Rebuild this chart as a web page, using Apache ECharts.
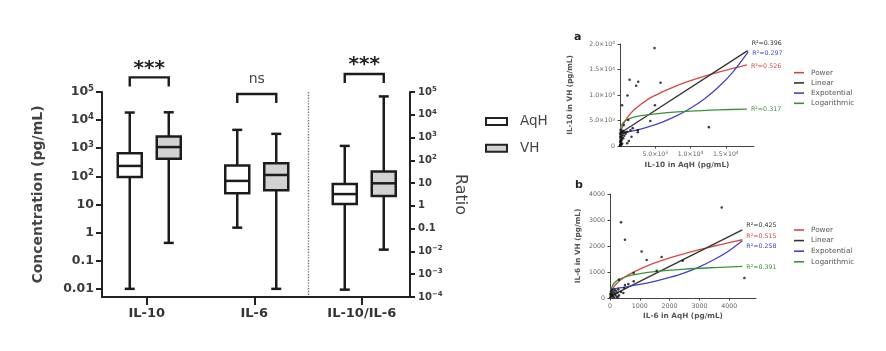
<!DOCTYPE html>
<html>
<head>
<meta charset="utf-8">
<script src="https://cdn.jsdelivr.net/npm/echarts@6/dist/echarts.min.js"></script>
<style>html,body{margin:0;background:#fff}#main{width:886px;height:351px}</style>
</head>
<body>
<div id="main"></div>
<script>
const FONT = 'DejaVu Sans';

// ---- left panel: box plots, [min, Q1, median, Q3, max]
const categories = ['IL-10', 'IL-6', 'IL-10/IL-6'];
const aqhConc = [[0.01, 95, 235, 660, 18600], [1.5, 25, 69, 245, 4500]];
const vhConc = [[0.43, 425, 1100, 2600, 19000], [0.01, 32, 112, 290, 3250]];
const aqhRatio = [0.00021, 1.2, 3.3, 9.1, 430];
const vhRatio = [0.012, 2.7, 9.8, 32, 64000];
const concTickLabels = ['0.01', '0.1', '1', '10', '10{s|2}', '10{s|3}', '10{s|4}', '10{s|5}']; // 1e-2 .. 1e5
const ratioTickLabels = ['10{s|−4}', '10{s|−3}', '10{s|−2}', '0.1', '1', '10', '10{s|2}', '10{s|3}', '10{s|4}', '10{s|5}']; // 1e-4 .. 1e5
const sigConc = [[0, 331000], [1, 85000]];
const sigConcText = ['***', 'ns'];
const sigRatio = [[2, 617000]];
const sigRatioText = ['***'];

// ---- panel a: IL-10, AqH (x) vs VH (y)
const il10Points = [
    [20, 100], [40, 900], [50, 300], [60, 1800], [80, 600], [100, 1000], [120, 1500], [130, 200],
    [150, 800], [150, 2800], [180, 2000], [200, 2600], [220, 350], [250, 1200], [280, 1700], [300, 500],
    [350, 2200], [400, 3000], [450, 1500], [500, 2600], [90, 3200], [30, 2400], [10, 50], [600, 2000],
    [700, 2700], [800, 2400], [540, 4100], [1020, 2800], [1250, 980], [1020, 530], [1490, 3100],
    [1630, 1800], [1810, 3500], [2520, 3100], [2520, 2700], [4300, 4900], [4950, 8000], [300, 8000],
    [1060, 9900], [1160, 5100], [1350, 13000], [2290, 11800], [2580, 12600], [5740, 12400],
    [4900, 19200], [12600, 3700]
];
const il10Power = [[10, 1000], [100, 2400], [500, 4300], [1000, 5500], [2000, 7100], [4000, 9200], [6000, 10600],
    [8000, 11800], [10000, 12800], [12000, 13700], [14000, 14500], [16000, 15200], [18000, 15900]];
const il10Linear = [[0, 2500], [18100, 18700]];
const il10Expo = [[0, 2400], [2000, 3000], [4000, 3750], [6000, 4700], [8000, 5900], [10000, 7400],
    [12000, 9250], [14000, 11600], [16000, 14500], [18200, 18500]];
const il10Log = [[10, 1800], [50, 3000], [150, 3800], [300, 4300], [700, 4900], [1500, 5450], [3000, 5950],
    [6000, 6450], [10000, 6820], [14000, 7070], [18000, 7250]];
const il10R2 = ['R²=0.526', 'R²=0.396', 'R²=0.297', 'R²=0.317'];
const il10XTicks = [5000, 10000, 15000];
const il10XLabels = ['5.0×10{s|3}', '1.0×10{s|4}', '1.5×10{s|4}'];
const il10YTicks = [0, 5000, 10000, 15000, 20000];
const il10YLabels = ['0', '5.0×10{s|3}', '1.0×10{s|4}', '1.5×10{s|4}', '2.0×10{s|4}'];

// ---- panel b: IL-6, AqH (x) vs VH (y)
const il6Points = [
    [3750, 3480], [370, 2910], [503, 2240], [1063, 1790], [1230, 1460], [1733, 1577], [2440, 1434],
    [4510, 770], [1567, 1050], [795, 960], [795, 640], [302, 700], [614, 540], [500, 500], [447, 190],
    [370, 230], [480, 385], [20, 30], [40, 80], [60, 150], [80, 200], [100, 60], [120, 250], [150, 320],
    [180, 120], [200, 280], [250, 200], [280, 330], [30, 250], [70, 320], [130, 20], [220, 60], [10, 150],
    [160, 180], [300, 100], [260, 30], [90, 100]
];
const il6Power = [[0, 0], [20, 170], [100, 380], [300, 640], [600, 880], [1000, 1110], [1500, 1350],
    [2000, 1540], [2500, 1710], [3000, 1860], [3500, 2000], [4000, 2130], [4440, 2240]];
const il6Linear = [[0, 60], [4440, 2620]];
const il6Expo = [[0, 340], [500, 420], [1000, 520], [1500, 640], [2000, 790], [2500, 970], [3000, 1200],
    [3500, 1480], [4000, 1820], [4440, 2200]];
const il6Log = [[8, 30], [15, 150], [30, 290], [60, 415], [150, 585], [300, 715], [700, 870], [1500, 1015],
    [2500, 1110], [3500, 1170], [4440, 1215]];
const il6R2 = ['R²=0.515', 'R²=0.425', 'R²=0.258', 'R²=0.391'];
const il6Ticks = [0, 1000, 2000, 3000, 4000];
const il6YTicks = [0, 1000, 2000, 3000, 4000];

const fitNames = ['Power', 'Linear', 'Expotential', 'Logarithmic'];
const fitColors = ['#d64a46', '#333333', '#4343c4', '#3a933a'];

const chart = echarts.init(document.getElementById('main'));
const lg = Math.log10;

const AQH_SHIFT = -17;
const VH_SHIFT = 22;
const INK = '#1c1c1c';

function toBox(stats, i) {
    return [i].concat(stats.map(lg));
}

function boxItem(shift, fill) {
    return function(params, api) {
        const cat = api.value(0);
        const y = i => api.coord([cat, api.value(i)])[1];
        const x = api.coord([cat, api.value(3)])[0] + shift;
        const line = (x1, y1, x2, y2) => ({
            type: 'line',
            shape: { x1, y1, x2, y2 },
            style: { stroke: INK, lineWidth: 2.5 }
        });
        return {
            type: 'group',
            children: [
                line(x, y(5), x, y(4)),
                line(x, y(2), x, y(1)),
                line(x - 5, y(5), x + 5, y(5)),
                line(x - 5, y(1), x + 5, y(1)),
                {
                    type: 'rect',
                    shape: { x: x - 12, y: y(4), width: 24, height: y(2) - y(4) },
                    style: { fill: fill, stroke: INK, lineWidth: 2.5 }
                },
                line(x - 12, y(3), x + 12, y(3))
            ]
        };
    };
}

function sigItem(texts) {
    return function(params, api) {
        const p = api.coord([api.value(0), api.value(1)]);
        const x1 = p[0] + AQH_SHIFT, x2 = p[0] + VH_SHIFT, yt = p[1];
        const txt = texts[params.dataIndex];
        const stars = txt === '***';
        return {
            type: 'group',
            children: [{
                type: 'polyline',
                shape: { points: [[x1, yt + 9], [x1, yt], [x2, yt], [x2, yt + 9]] },
                style: { stroke: INK, lineWidth: 2.4, fill: null }
            }, {
                type: 'text',
                style: {
                    text: txt,
                    x: (x1 + x2) / 2,
                    y: stars ? yt - 9 : yt - 15,
                    align: 'center',
                    verticalAlign: 'middle',
                    fill: stars ? '#222' : '#444',
                    fontSize: stars ? 20 : 14,
                    fontWeight: stars ? 'bold' : 'normal',
                    fontFamily: FONT
                }
            }]
        };
    };
}

function panelLabel(labels, ticks, size) {
    return {
        customValues: ticks,
        formatter: v => labels[ticks.indexOf(v)] || '',
        fontSize: size,
        color: '#666',
        fontFamily: FONT,
        rich: { s: { fontSize: size * 0.72, verticalAlign: 'top', lineHeight: 5, color: '#666', fontFamily: FONT } }
    };
}

function panelAxis(grid, opts) {
    return Object.assign({
        gridIndex: grid,
        type: 'value',
        nameLocation: 'middle',
        nameTextStyle: { fontSize: 7.3, fontWeight: 'bold', color: '#555', fontFamily: FONT },
        axisLine: { show: true, onZero: false, lineStyle: { color: '#444', width: 1 } },
        splitLine: { show: false }
    }, opts);
}

function fitSeries(data, idx, r2, dy, xi, yi) {
    const color = fitColors[idx];
    return {
        type: 'line',
        name: fitNames[idx],
        xAxisIndex: xi,
        yAxisIndex: yi,
        data: data,
        smooth: 0.3,
        showSymbol: false,
        symbol: 'none',
        silent: true,
        lineStyle: { color: color, width: 1.3 },
        itemStyle: { color: color },
        endLabel: { show: true, formatter: r2, color: color, fontSize: 6.3, fontFamily: FONT, distance: 4, offset: [0, dy] },
        z: 3
    };
}

const option = {
    animation: false,
    textStyle: { fontFamily: FONT },
    title: [
        { text: 'a', left: 569, top: 27, textStyle: { fontSize: 11, fontWeight: 'bold', color: '#222', fontFamily: FONT } },
        { text: 'b', left: 570, top: 175, textStyle: { fontSize: 11, fontWeight: 'bold', color: '#222', fontFamily: FONT } }
    ],
    legend: [{
        data: ['AqH', 'VH'],
        orient: 'vertical',
        left: 480,
        top: 108.5,
        icon: 'rect',
        itemWidth: 21,
        itemHeight: 7,
        itemGap: 10.8,
        itemStyle: { borderColor: '#222', borderWidth: 2 },
        textStyle: { fontSize: 13.5, color: '#444', lineHeight: 16, padding: [0, 0, 0, 8], fontFamily: FONT }
    }, {
        data: fitNames,
        orient: 'vertical',
        left: 789,
        top: 62.6,
        icon: 'rect',
        itemWidth: 10,
        itemHeight: 1.6,
        itemGap: 0,
        textStyle: { fontSize: 7.3, color: '#555', lineHeight: 10.2, padding: [0, 0, 0, 2], fontFamily: FONT }
    }, {
        data: fitNames,
        orient: 'vertical',
        left: 789,
        top: 219.7,
        icon: 'rect',
        itemWidth: 10,
        itemHeight: 1.6,
        itemGap: 0,
        textStyle: { fontSize: 7.3, color: '#555', lineHeight: 10.6, padding: [0, 0, 0, 2], fontFamily: FONT }
    }],
    grid: [
        { left: 102, top: 92, width: 308, height: 205 },   // x axis line only
        { left: 93, top: 92, width: 322.5, height: 205 },  // box plots
        { left: 620, top: 44, width: 134, height: 102 },   // panel a
        { left: 610, top: 194, width: 146, height: 104 }   // panel b
    ],
    xAxis: [{
        gridIndex: 0,
        type: 'value',
        min: 0,
        max: 1,
        axisLine: { show: true, onZero: false, lineStyle: { color: '#222', width: 2 } },
        axisTick: { show: false },
        axisLabel: { show: false },
        splitLine: { show: false }
    }, {
        gridIndex: 1,
        type: 'category',
        data: categories,
        axisLine: { show: false, onZero: false },
        axisTick: { show: true, alignWithLabel: true, length: 8, lineStyle: { color: '#222', width: 2 } },
        axisLabel: { margin: 10, fontSize: 13, fontWeight: 'bold', color: '#333', fontFamily: FONT },
        splitLine: {
            show: true,
            lineStyle: { type: 'dotted', width: 1.4, color: ['rgba(0,0,0,0)', 'rgba(0,0,0,0)', '#777', 'rgba(0,0,0,0)'] }
        }
    }, panelAxis(2, {
        min: 0,
        max: 19000,
        name: 'IL-10 in AqH (pg/mL)',
        nameGap: 16,
        axisTick: { show: true, length: 2.5, customValues: il10XTicks, lineStyle: { color: '#444' } },
        axisLabel: Object.assign(panelLabel(il10XLabels, il10XTicks, 6.2), { margin: 5 })
    }), panelAxis(3, {
        min: 0,
        max: 4900,
        name: 'IL-6 in AqH (pg/mL)',
        nameGap: 14.5,
        axisTick: { show: true, length: 2.5, customValues: il6Ticks, lineStyle: { color: '#444' } },
        axisLabel: Object.assign(panelLabel(il6Ticks.map(String), il6Ticks, 6.3), { margin: 5 })
    })],
    yAxis: [{
        gridIndex: 0,
        type: 'value',
        show: false
    }, {
        gridIndex: 1,
        type: 'value',
        position: 'left',
        offset: -9,
        min: -2.29,
        max: 5,
        name: 'Concentration (pg/mL)',
        nameLocation: 'middle',
        nameGap: 57,
        nameTextStyle: { fontSize: 14, fontWeight: 'bold', color: '#444', fontFamily: FONT },
        axisLine: { show: true, lineStyle: { color: '#222', width: 2 } },
        axisTick: { show: true, length: 6, customValues: [-2, -1, 0, 1, 2, 3, 4, 5], lineStyle: { color: '#222', width: 2 } },
        axisLabel: {
            customValues: [-2, -1, 0, 1, 2, 3, 4, 5],
            formatter: v => concTickLabels[Math.round(v) + 2],
            margin: 8,
            fontSize: 12.5,
            fontWeight: 'bold',
            color: '#3a3a3a',
            lineHeight: 16,
            fontFamily: FONT,
            rich: { s: { fontSize: 8.5, fontWeight: 'bold', verticalAlign: 'top', lineHeight: 8, color: '#3a3a3a', fontFamily: FONT } }
        },
        splitLine: { show: false }
    }, {
        gridIndex: 1,
        type: 'value',
        position: 'right',
        offset: -5.5,
        min: -4,
        max: 5,
        name: 'Ratio',
        nameLocation: 'middle',
        nameRotate: -90,
        nameGap: 42,
        nameTextStyle: { fontSize: 16, color: '#444', fontFamily: FONT },
        axisLine: { show: true, lineStyle: { color: '#222', width: 2 } },
        axisTick: { show: true, length: 5, customValues: [-4, -3, -2, -1, 0, 1, 2, 3, 4, 5], lineStyle: { color: '#222', width: 2 } },
        axisLabel: {
            customValues: [-4, -3, -2, -1, 0, 1, 2, 3, 4, 5],
            formatter: v => ratioTickLabels[Math.round(v) + 4],
            margin: 8,
            fontSize: 10,
            fontWeight: 'bold',
            color: '#3a3a3a',
            lineHeight: 13,
            fontFamily: FONT,
            rich: { s: { fontSize: 7, fontWeight: 'bold', verticalAlign: 'top', lineHeight: 7, color: '#3a3a3a', fontFamily: FONT } }
        },
        splitLine: { show: false }
    }, panelAxis(2, {
        min: 0,
        max: 20000,
        name: 'IL-10 in VH (pg/mL)',
        nameGap: 46,
        axisTick: { show: true, length: 2.5, customValues: il10YTicks, lineStyle: { color: '#444' } },
        axisLabel: Object.assign(panelLabel(il10YLabels, il10YTicks, 6.2), { margin: 5 })
    }), panelAxis(3, {
        min: 0,
        max: 4000,
        name: 'IL-6 in VH (pg/mL)',
        nameGap: 28,
        axisTick: { show: true, length: 2.5, customValues: il6YTicks, lineStyle: { color: '#444' } },
        axisLabel: Object.assign(panelLabel(il6YTicks.map(String), il6YTicks, 6.3), { margin: 5 })
    })],
    series: [{
            type: 'custom',
            name: 'AqH',
            xAxisIndex: 1,
            yAxisIndex: 1,
            clip: false,
            itemStyle: { color: '#ffffff', borderColor: INK, borderWidth: 2 },
            encode: { x: 0, y: [1, 2, 3, 4, 5] },
            data: aqhConc.map(toBox),
            renderItem: boxItem(AQH_SHIFT, '#ffffff')
        },
        {
            type: 'custom',
            name: 'VH',
            xAxisIndex: 1,
            yAxisIndex: 1,
            clip: false,
            itemStyle: { color: '#d2d2d2', borderColor: INK, borderWidth: 2 },
            encode: { x: 0, y: [1, 2, 3, 4, 5] },
            data: vhConc.map(toBox),
            renderItem: boxItem(VH_SHIFT, '#d2d2d2')
        },
        {
            type: 'custom',
            name: 'AqH',
            xAxisIndex: 1,
            yAxisIndex: 2,
            clip: false,
            itemStyle: { color: '#ffffff', borderColor: INK, borderWidth: 2 },
            encode: { x: 0, y: [1, 2, 3, 4, 5] },
            data: [toBox(aqhRatio, 2)],
            renderItem: boxItem(AQH_SHIFT, '#ffffff')
        },
        {
            type: 'custom',
            name: 'VH',
            xAxisIndex: 1,
            yAxisIndex: 2,
            clip: false,
            itemStyle: { color: '#d2d2d2', borderColor: INK, borderWidth: 2 },
            encode: { x: 0, y: [1, 2, 3, 4, 5] },
            data: [toBox(vhRatio, 2)],
            renderItem: boxItem(VH_SHIFT, '#d2d2d2')
        },
        {
            type: 'custom',
            name: 'sig',
            xAxisIndex: 1,
            yAxisIndex: 1,
            clip: false,
            silent: true,
            data: sigConc.map(d => [d[0], lg(d[1])]),
            renderItem: sigItem(sigConcText)
        },
        {
            type: 'custom',
            name: 'sig2',
            xAxisIndex: 1,
            yAxisIndex: 2,
            clip: false,
            silent: true,
            data: sigRatio.map(d => [d[0], lg(d[1])]),
            renderItem: sigItem(sigRatioText)
        },
        fitSeries(il10Power, 0, il10R2[0], 1, 2, 3),
        fitSeries(il10Linear, 1, il10R2[1], -7, 2, 3),
        fitSeries(il10Expo, 2, il10R2[2], 2, 2, 3),
        fitSeries(il10Log, 3, il10R2[3], 0, 2, 3),
        {
            type: 'scatter',
            name: 'IL-10 points',
            xAxisIndex: 2,
            yAxisIndex: 3,
            symbolSize: 2.6,
            itemStyle: { color: '#111' },
            data: il10Points,
            z: 4
        },
        fitSeries(il6Power, 0, il6R2[0], -3.5, 3, 4),
        fitSeries(il6Linear, 1, il6R2[1], -5, 3, 4),
        fitSeries(il6Expo, 2, il6R2[2], 5.5, 3, 4),
        fitSeries(il6Log, 3, il6R2[3], 0.5, 3, 4),
        {
            type: 'scatter',
            name: 'IL-6 points',
            xAxisIndex: 3,
            yAxisIndex: 4,
            symbolSize: 2.6,
            itemStyle: { color: '#111' },
            data: il6Points,
            z: 4
        }
    ]
};

chart.setOption(option);
</script>
</body>
</html>
